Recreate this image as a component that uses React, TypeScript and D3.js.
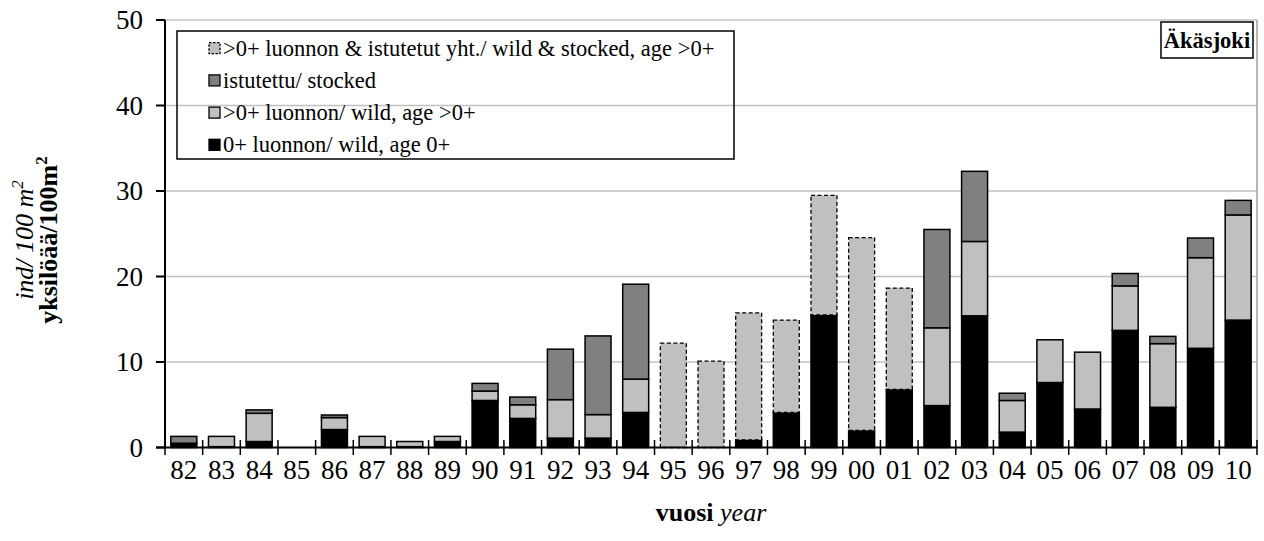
import React from "react";
import * as d3 from "d3";

const years = ["82","83","84","85","86","87","88","89","90","91","92","93","94","95","96","97","98","99","00","01","02","03","04","05","06","07","08","09","10"];
const wildAge0 = [0.5,0.1,0.7,0,2.1,0.1,0.1,0.7,5.5,3.4,1.1,1.1,4.1,0,0,0.9,4.1,15.5,2.0,6.8,4.9,15.4,1.8,7.6,4.5,13.7,4.7,11.6,14.9];
const wildOlder = [0,1.2,3.3,0,1.4,1.2,0.6,0.6,1.1,1.6,4.5,2.75,3.9,0,0,0,0,0,0,0,9.1,8.7,3.7,5.0,6.65,5.2,7.45,10.6,12.3];
const combinedOlder = [0,0,0,0,0,0,0,0,0,0,0,0,0,12.2,10.1,14.85,10.8,14.0,22.55,11.85,0,0,0,0,0,0,0,0,0];
const stocked = [0.8,0,0.4,0,0.3,0,0,0,0.9,0.9,5.9,9.2,11.1,0,0,0,0,0,0,0,11.5,8.2,0.85,0,0,1.45,0.85,2.3,1.7];
const yTicks = [0,10,20,30,40,50];
const legendItems = [
  { label: ">0+ luonnon & istutetut  yht./ wild & stocked, age >0+", fill: "#c0c0c0", dashed: true },
  { label: "istutettu/  stocked", fill: "#808080", dashed: false },
  { label: ">0+ luonnon/  wild, age >0+", fill: "#c0c0c0", dashed: false },
  { label: "0+ luonnon/  wild, age 0+", fill: "#000000", dashed: false },
];

const FONT = "Liberation Serif, DejaVu Serif, serif";

export default function App() {
  const left = 165, right = 1257, top = 20, bottom = 447.5;
  const x = d3.scaleBand<string>().domain(years).range([left, right]).paddingInner(0.31).paddingOuter(0.155);
  const y = d3.scaleLinear().domain([0, 50]).range([bottom, top]);
  const step = x.step();
  const bw = x.bandwidth();

  const bars: JSX.Element[] = [];
  years.forEach((yr, i) => {
    const x0 = x(yr)!;
    const segs = [
      { v: wildAge0[i], fill: "#000000", dashed: false },
      { v: wildOlder[i], fill: "#c0c0c0", dashed: false },
      { v: combinedOlder[i], fill: "#c0c0c0", dashed: true },
      { v: stocked[i], fill: "#808080", dashed: false },
    ];
    let base = 0;
    segs.forEach((s, j) => {
      if (s.v <= 0) return;
      const y1 = y(base + s.v);
      const y0 = y(base);
      bars.push(
        <rect key={`${yr}-${j}`} x={x0} y={y1} width={bw} height={y0 - y1}
          fill={s.fill} stroke="#000" strokeWidth={s.dashed ? 1.3 : 1.5}
          strokeDasharray={s.dashed ? "4,2.5" : undefined} />
      );
      base += s.v;
    });
  });

  const boundaries = d3.range(years.length + 1).map((k) => left + k * step);

  return (
    <svg width={1264} height={541} style={{ position: "absolute", left: 0, top: 0, background: "#fff", fontFamily: FONT }}>
      {yTicks.filter((t) => t > 0).map((t) => (
        <line key={`g${t}`} x1={left} x2={right} y1={y(t)} y2={y(t)} stroke="#c0c0c0" strokeWidth={1.5} />
      ))}
      <line x1={right} x2={right} y1={top} y2={bottom} stroke="#a0a0a0" strokeWidth={1.5} />
      {bars}
      <line x1={left} x2={left} y1={top} y2={bottom} stroke="#000" strokeWidth={2} />
      {yTicks.map((t) => (
        <g key={`yt${t}`}>
          <line x1={156} x2={left} y1={y(t)} y2={y(t)} stroke="#000" strokeWidth={2} />
          <text x={143} y={y(t)} dy="0.35em" textAnchor="end" fontSize={27}>{t}</text>
        </g>
      ))}
      <line x1={156} x2={right} y1={bottom} y2={bottom} stroke="#000" strokeWidth={2} />
      {boundaries.map((bx, k) => (
        <line key={`xt${k}`} x1={bx} x2={bx} y1={440} y2={455} stroke="#000" strokeWidth={1.5} />
      ))}
      {years.map((yr) => (
        <text key={`xl${yr}`} x={x(yr)! + bw / 2} y={479} textAnchor="middle" fontSize={27}>{yr}</text>
      ))}
      <text x={(left + right) / 2} y={521} textAnchor="middle" fontSize={26}>
        <tspan fontWeight="bold">vuosi</tspan>
        <tspan fontStyle="italic">{"  year"}</tspan>
      </text>
      <g transform="translate(0,240) rotate(-90)">
        <text x={0} y={33} textAnchor="middle" fontSize={26} fontStyle="italic">
          ind/ 100 m<tspan fontSize={17} dy={-10}>2</tspan>
        </text>
        <text x={0} y={57} textAnchor="middle" fontSize={26} fontWeight="bold">
          yksilöää/100m<tspan fontSize={17} dy={-10}>2</tspan>
        </text>
      </g>
      <rect x={177} y={31} width={557} height={128} fill="none" stroke="#000" strokeWidth={1.5} />
      {legendItems.map((it, k) => {
        const cy = 48.7 + k * 32.2;
        return (
          <g key={`lg${k}`}>
            <rect x={209} y={cy - 6} width={11} height={11} fill={it.fill} stroke="#000" strokeWidth={1.3}
              strokeDasharray={it.dashed ? "2.5,1.5" : undefined} />
            <text x={223} y={cy + 7} fontSize={22.5}>{it.label}</text>
          </g>
        );
      })}
      <rect x={1161} y={22} width={92} height={36} fill="#fff" stroke="#000" strokeWidth={1.5} />
      <text x={1207} y={48} textAnchor="middle" fontSize={22.5} fontWeight="bold">Äkäsjoki</text>
    </svg>
  );
}
